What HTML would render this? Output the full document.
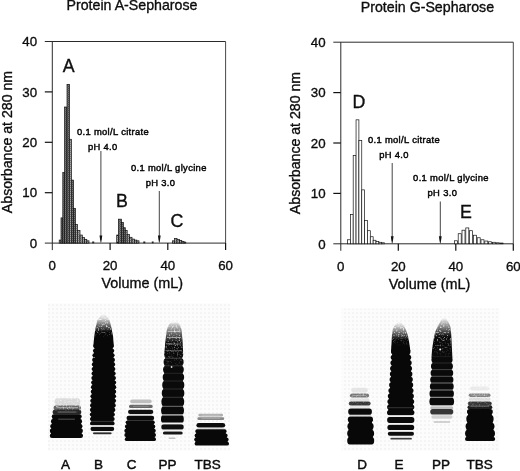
<!DOCTYPE html>
<html lang="en">
<head>
<meta charset="utf-8">
<title>Protein A-Sepharose / Protein G-Sepharose</title>
<style>
html,body{margin:0;padding:0;background:#fff;}
body{width:520px;height:471px;overflow:hidden;}
svg{display:block;font-family:"Liberation Sans", sans-serif;fill:#111;}
</style>
</head>
<body>
<svg width="520" height="471" viewBox="0 0 520 471">
<defs>
<pattern id="stip" width="2" height="2" patternUnits="userSpaceOnUse">
<rect width="2" height="2" fill="#777"/><rect width="1" height="1" fill="#4a4a4a"/><rect x="1" y="1" width="1" height="1" fill="#5c5c5c"/>
</pattern>
<pattern id="stipl" width="2" height="2" patternUnits="userSpaceOnUse">
<rect width="2" height="2" fill="#aaa"/><rect width="1" height="1" fill="#777"/><rect x="1" y="1" width="1" height="1" fill="#8a8a8a"/>
</pattern>
<pattern id="dith" width="4" height="4" patternUnits="userSpaceOnUse"><rect width="4" height="4" fill="#fcfcfc"/><rect width="2" height="2" fill="#f4f4f4"/></pattern>
<filter id="b1" x="0" y="0" width="520" height="471" filterUnits="userSpaceOnUse" color-interpolation-filters="sRGB">
<feTurbulence type="fractalNoise" baseFrequency="0.35" numOctaves="2" seed="7" result="n"/>
<feDisplacementMap in="SourceGraphic" in2="n" scale="1.3" xChannelSelector="R" yChannelSelector="G" result="d"/>
<feGaussianBlur in="d" stdDeviation="0.6"/>
</filter>
<filter id="spk" x="0" y="0" width="520" height="471" filterUnits="userSpaceOnUse" color-interpolation-filters="sRGB">
<feTurbulence type="fractalNoise" baseFrequency="0.62" numOctaves="2" seed="11" result="t"/>
<feColorMatrix in="t" type="matrix" values="0 0 0 0 0.97  0 0 0 0 0.97  0 0 0 0 0.97  0 0 0 3.6 -1.85" result="w"/>
<feComposite in="w" in2="SourceAlpha" operator="in" result="c"/>
<feGaussianBlur in="c" stdDeviation="0.5"/>
</filter>
</defs>
<rect width="520" height="471" fill="#fff"/>

<text x="132" y="10.2" font-size="14.2" text-anchor="middle" stroke="#000" stroke-width="0.32">Protein A-Sepharose</text>
<path d="M44.8 41.50H225.6" fill="none" stroke="#2a2a2a" stroke-width="1.0"/>
<path d="M225.6 41.50V243.1" fill="none" stroke="#333" stroke-width="0.9"/>
<path d="M52.3 41.50V250.1M44.8 243.1H225.6" fill="none" stroke="#2a2a2a" stroke-width="1.0"/>
<path d="M44.8 192.70H52.3" stroke="#111" stroke-width="1.2"/>
<path d="M44.8 142.30H52.3" stroke="#111" stroke-width="1.2"/>
<path d="M44.8 91.90H52.3" stroke="#111" stroke-width="1.2"/>
<text x="37.1" y="247.8" font-size="13.3" text-anchor="end" stroke="#000" stroke-width="0.32">0</text>
<text x="37.1" y="197.4" font-size="13.3" text-anchor="end" stroke="#000" stroke-width="0.32">10</text>
<text x="37.1" y="147.1" font-size="13.3" text-anchor="end" stroke="#000" stroke-width="0.32">20</text>
<text x="37.1" y="96.7" font-size="13.3" text-anchor="end" stroke="#000" stroke-width="0.32">30</text>
<text x="37.1" y="46.2" font-size="13.3" text-anchor="end" stroke="#000" stroke-width="0.32">40</text>
<path d="M110.1 243.1V250.1" stroke="#111" stroke-width="1.2"/>
<path d="M167.8 243.1V250.1" stroke="#111" stroke-width="1.2"/>
<path d="M225.6 243.1V250.1" stroke="#111" stroke-width="1.2"/>
<text x="52.3" y="270.1" font-size="13.3" text-anchor="middle" stroke="#000" stroke-width="0.32">0</text>
<text x="110.1" y="270.1" font-size="13.3" text-anchor="middle" stroke="#000" stroke-width="0.32">20</text>
<text x="167.8" y="270.1" font-size="13.3" text-anchor="middle" stroke="#000" stroke-width="0.32">40</text>
<text x="225.6" y="270.1" font-size="13.3" text-anchor="middle" stroke="#000" stroke-width="0.32">60</text>
<text x="142.2" y="288.1" font-size="14.4" text-anchor="middle" stroke="#000" stroke-width="0.32">Volume (mL)</text>
<text transform="translate(11.8 142) rotate(-90)" font-size="14.15" text-anchor="middle" stroke="#000" stroke-width="0.32">Absorbance at 280 nm</text>
<rect x="59.20" y="240.08" width="1.80" height="3.02" fill="url(#stipl)" stroke="#111" stroke-width="0.7"/>
<rect x="61.00" y="217.90" width="2.00" height="25.20" fill="url(#stip)" stroke="#111" stroke-width="0.7"/>
<rect x="62.80" y="172.54" width="2.00" height="70.56" fill="url(#stip)" stroke="#111" stroke-width="0.7"/>
<rect x="64.60" y="107.02" width="2.40" height="136.08" fill="url(#stip)" stroke="#111" stroke-width="0.7"/>
<rect x="67.00" y="84.34" width="2.60" height="158.76" fill="url(#stip)" stroke="#111" stroke-width="0.7"/>
<rect x="69.40" y="139.28" width="2.10" height="103.82" fill="url(#stipl)" stroke="#111" stroke-width="0.7"/>
<rect x="71.30" y="180.10" width="2.30" height="63.00" fill="url(#stip)" stroke="#111" stroke-width="0.7"/>
<rect x="73.50" y="208.32" width="2.00" height="34.78" fill="url(#stip)" stroke="#111" stroke-width="0.7"/>
<rect x="75.50" y="224.45" width="2.00" height="18.65" fill="url(#stipl)" stroke="#111" stroke-width="0.7"/>
<rect x="77.50" y="230.50" width="2.50" height="12.60" fill="url(#stipl)" stroke="#111" stroke-width="0.7"/>
<rect x="80.00" y="235.04" width="2.30" height="8.06" fill="url(#stipl)" stroke="#111" stroke-width="0.7"/>
<rect x="82.30" y="237.56" width="2.30" height="5.54" fill="url(#stipl)" stroke="#111" stroke-width="0.7"/>
<rect x="84.60" y="239.32" width="2.20" height="3.78" fill="url(#stipl)" stroke="#111" stroke-width="0.7"/>
<rect x="86.80" y="240.83" width="2.20" height="2.27" fill="url(#stipl)" stroke="#111" stroke-width="0.7"/>
<rect x="116.70" y="235.04" width="1.80" height="8.06" fill="url(#stipl)" stroke="#111" stroke-width="0.7"/>
<rect x="118.40" y="219.16" width="3.10" height="23.94" fill="url(#stip)" stroke="#111" stroke-width="0.7"/>
<rect x="121.50" y="222.44" width="1.90" height="20.66" fill="url(#stip)" stroke="#111" stroke-width="0.7"/>
<rect x="123.40" y="227.73" width="1.90" height="15.37" fill="url(#stip)" stroke="#111" stroke-width="0.7"/>
<rect x="125.30" y="230.50" width="1.90" height="12.60" fill="url(#stipl)" stroke="#111" stroke-width="0.7"/>
<rect x="127.20" y="234.53" width="2.40" height="8.57" fill="url(#stipl)" stroke="#111" stroke-width="0.7"/>
<rect x="129.60" y="237.30" width="2.40" height="5.80" fill="url(#stipl)" stroke="#111" stroke-width="0.7"/>
<rect x="132.00" y="239.07" width="2.40" height="4.03" fill="url(#stipl)" stroke="#111" stroke-width="0.7"/>
<rect x="134.40" y="240.08" width="2.40" height="3.02" fill="url(#stipl)" stroke="#111" stroke-width="0.7"/>
<rect x="136.80" y="240.83" width="2.20" height="2.27" fill="url(#stipl)" stroke="#111" stroke-width="0.7"/>
<rect x="172.60" y="240.83" width="2.00" height="2.27" fill="url(#stipl)" stroke="#111" stroke-width="0.7"/>
<rect x="174.60" y="238.56" width="2.40" height="4.54" fill="url(#stipl)" stroke="#111" stroke-width="0.7"/>
<rect x="177.00" y="239.32" width="2.40" height="3.78" fill="url(#stipl)" stroke="#111" stroke-width="0.7"/>
<rect x="179.40" y="240.33" width="2.40" height="2.77" fill="url(#stipl)" stroke="#111" stroke-width="0.7"/>
<rect x="181.80" y="241.34" width="2.20" height="1.76" fill="url(#stipl)" stroke="#111" stroke-width="0.7"/>
<rect x="184.00" y="242.09" width="1.80" height="1.01" fill="url(#stipl)" stroke="#111" stroke-width="0.7"/>
<rect x="92.2" y="241.5" width="2" height="1.8" fill="#222"/>
<rect x="143.3" y="241.5" width="2" height="1.8" fill="#222"/>
<rect x="151.8" y="241.5" width="1.8" height="1.8" fill="#222"/>
<path d="M100.9 151V240.1" stroke="#444" stroke-width="1"/>
<path d="M99.5 235.5L102.30000000000001 235.5L101.2 242.5L100.60000000000001 242.5Z" fill="#111"/>
<path d="M159.3 191V240.1" stroke="#444" stroke-width="1"/>
<path d="M157.9 235.5L160.70000000000002 235.5L159.60000000000002 242.5L159.0 242.5Z" fill="#111"/>
<text x="113" y="134.7" font-size="9.4" letter-spacing="0.34" text-anchor="middle" stroke="#000" stroke-width="0.45">0.1 mol/L citrate</text>
<text x="102.8" y="149.5" font-size="9.4" letter-spacing="0.34" text-anchor="middle" stroke="#000" stroke-width="0.45">pH 4.0</text>
<text x="168.8" y="170.7" font-size="9.4" letter-spacing="0.34" text-anchor="middle" stroke="#000" stroke-width="0.45">0.1 mol/L glycine</text>
<text x="160.5" y="185.5" font-size="9.4" letter-spacing="0.34" text-anchor="middle" stroke="#000" stroke-width="0.45">pH 3.0</text>
<text x="68.8" y="71.6" font-size="17.8" text-anchor="middle" stroke="#000" stroke-width="0.32">A</text>
<text x="122" y="206.7" font-size="17.8" text-anchor="middle" stroke="#000" stroke-width="0.32">B</text>
<text x="177" y="227.2" font-size="17.8" text-anchor="middle" stroke="#000" stroke-width="0.32">C</text>
<text x="427.4" y="12.1" font-size="14.2" text-anchor="middle" stroke="#000" stroke-width="0.32">Protein G-Sepharose</text>
<path d="M333.3 42.20H513.3" fill="none" stroke="#2a2a2a" stroke-width="1.0"/>
<path d="M513.3 42.20V243.8" fill="none" stroke="#333" stroke-width="0.9"/>
<path d="M340.8 42.20V250.8M333.3 243.8H513.3" fill="none" stroke="#2a2a2a" stroke-width="1.0"/>
<path d="M333.3 193.40H340.8" stroke="#111" stroke-width="1.2"/>
<path d="M333.3 143.00H340.8" stroke="#111" stroke-width="1.2"/>
<path d="M333.3 92.60H340.8" stroke="#111" stroke-width="1.2"/>
<text x="325.6" y="248.6" font-size="13.3" text-anchor="end" stroke="#000" stroke-width="0.32">0</text>
<text x="325.6" y="198.2" font-size="13.3" text-anchor="end" stroke="#000" stroke-width="0.32">10</text>
<text x="325.6" y="147.8" font-size="13.3" text-anchor="end" stroke="#000" stroke-width="0.32">20</text>
<text x="325.6" y="97.4" font-size="13.3" text-anchor="end" stroke="#000" stroke-width="0.32">30</text>
<text x="325.6" y="47.0" font-size="13.3" text-anchor="end" stroke="#000" stroke-width="0.32">40</text>
<path d="M398.3 243.8V250.8" stroke="#111" stroke-width="1.2"/>
<path d="M455.8 243.8V250.8" stroke="#111" stroke-width="1.2"/>
<path d="M513.3 243.8V250.8" stroke="#111" stroke-width="1.2"/>
<text x="340.8" y="270.8" font-size="13.3" text-anchor="middle" stroke="#000" stroke-width="0.32">0</text>
<text x="398.3" y="270.8" font-size="13.3" text-anchor="middle" stroke="#000" stroke-width="0.32">20</text>
<text x="455.8" y="270.8" font-size="13.3" text-anchor="middle" stroke="#000" stroke-width="0.32">40</text>
<text x="513.3" y="270.8" font-size="13.3" text-anchor="middle" stroke="#000" stroke-width="0.32">60</text>
<text x="429.6" y="288.8" font-size="14.4" text-anchor="middle" stroke="#000" stroke-width="0.32">Volume (mL)</text>
<text transform="translate(300.2 143) rotate(-90)" font-size="14.15" text-anchor="middle" stroke="#000" stroke-width="0.32">Absorbance at 280 nm</text>
<rect x="347.50" y="239.77" width="2.85" height="4.03" fill="#fff" stroke="#111" stroke-width="0.7"/>
<rect x="350.35" y="214.57" width="2.85" height="29.23" fill="#fff" stroke="#111" stroke-width="0.7"/>
<rect x="353.20" y="155.60" width="2.85" height="88.20" fill="#fff" stroke="#111" stroke-width="0.7"/>
<rect x="356.05" y="119.82" width="2.85" height="123.98" fill="#fff" stroke="#111" stroke-width="0.7"/>
<rect x="358.90" y="140.48" width="2.85" height="103.32" fill="#fff" stroke="#111" stroke-width="0.7"/>
<rect x="361.75" y="189.87" width="2.85" height="53.93" fill="#fff" stroke="#111" stroke-width="0.7"/>
<rect x="364.60" y="220.62" width="2.85" height="23.18" fill="#fff" stroke="#111" stroke-width="0.7"/>
<rect x="367.45" y="230.70" width="2.85" height="13.10" fill="#fff" stroke="#111" stroke-width="0.7"/>
<rect x="370.30" y="236.74" width="2.85" height="7.06" fill="#fff" stroke="#111" stroke-width="0.7"/>
<rect x="373.15" y="240.27" width="2.85" height="3.53" fill="#fff" stroke="#111" stroke-width="0.7"/>
<rect x="376.00" y="241.53" width="2.85" height="2.27" fill="#fff" stroke="#111" stroke-width="0.7"/>
<rect x="378.85" y="242.29" width="2.85" height="1.51" fill="#fff" stroke="#111" stroke-width="0.7"/>
<rect x="381.70" y="242.79" width="2.85" height="1.01" fill="#fff" stroke="#111" stroke-width="0.7"/>
<rect x="454.40" y="240.78" width="3.00" height="3.02" fill="#fff" stroke="#111" stroke-width="0.7"/>
<rect x="458.20" y="233.72" width="3.00" height="10.08" fill="#fff" stroke="#111" stroke-width="0.7"/>
<rect x="462.00" y="230.19" width="3.00" height="13.61" fill="#fff" stroke="#111" stroke-width="0.7"/>
<rect x="465.80" y="227.92" width="3.00" height="15.88" fill="#fff" stroke="#111" stroke-width="0.7"/>
<rect x="469.60" y="230.70" width="3.00" height="13.10" fill="#fff" stroke="#111" stroke-width="0.7"/>
<rect x="473.40" y="235.23" width="3.00" height="8.57" fill="#fff" stroke="#111" stroke-width="0.7"/>
<rect x="477.20" y="237.75" width="3.00" height="6.05" fill="#fff" stroke="#111" stroke-width="0.7"/>
<rect x="481.00" y="239.77" width="3.00" height="4.03" fill="#fff" stroke="#111" stroke-width="0.7"/>
<rect x="484.80" y="241.03" width="3.00" height="2.77" fill="#fff" stroke="#111" stroke-width="0.7"/>
<rect x="488.60" y="241.78" width="3.00" height="2.02" fill="#fff" stroke="#111" stroke-width="0.7"/>
<rect x="492.40" y="242.29" width="3.00" height="1.51" fill="#fff" stroke="#111" stroke-width="0.7"/>
<rect x="496.20" y="242.79" width="3.00" height="1.01" fill="#fff" stroke="#111" stroke-width="0.7"/>
<rect x="500.00" y="243.04" width="3.00" height="0.76" fill="#fff" stroke="#111" stroke-width="0.7"/>
<path d="M392.2 163V240.8" stroke="#444" stroke-width="1"/>
<path d="M390.8 236.20000000000002L393.59999999999997 236.20000000000002L392.5 243.20000000000002L391.9 243.20000000000002Z" fill="#111"/>
<path d="M440.3 201.5V240.8" stroke="#444" stroke-width="1"/>
<path d="M438.90000000000003 236.20000000000002L441.7 236.20000000000002L440.6 243.20000000000002L440.0 243.20000000000002Z" fill="#111"/>
<text x="404" y="143.4" font-size="9.4" letter-spacing="0.34" text-anchor="middle" stroke="#000" stroke-width="0.45">0.1 mol/L citrate</text>
<text x="394" y="157.7" font-size="9.4" letter-spacing="0.34" text-anchor="middle" stroke="#000" stroke-width="0.45">pH 4.0</text>
<text x="451" y="181.4" font-size="9.4" letter-spacing="0.34" text-anchor="middle" stroke="#000" stroke-width="0.45">0.1 mol/L glycine</text>
<text x="442.4" y="196" font-size="9.4" letter-spacing="0.34" text-anchor="middle" stroke="#000" stroke-width="0.45">pH 3.0</text>
<text x="358.9" y="108" font-size="17.8" text-anchor="middle" stroke="#000" stroke-width="0.32">D</text>
<text x="466" y="218.2" font-size="17.8" text-anchor="middle" stroke="#000" stroke-width="0.32">E</text>
<rect x="48" y="303.5" width="182" height="147" fill="url(#dith)"/>
<rect x="341.5" y="308.5" width="158" height="142" fill="url(#dith)"/>
<g filter="url(#b1)">
<path d="M53.3 415.0L52.9 417.0L52.5 419.0L52.2 421.0L51.9 423.0L51.7 425.0L51.4 427.0L51.2 429.0L50.9 431.0L50.9 433.0L51.0 435.0L51.2 437.0L81.7 437.0L81.7 435.0L81.7 433.0L81.6 431.0L81.5 429.0L81.3 427.0L81.1 425.0L81.0 423.0L80.8 421.0L80.6 419.0L80.5 417.0L80.3 415.0Z" fill="#080808"/>
<rect x="54.6" y="398.3" width="25.6" height="7.7" rx="2.6" ry="3.8" fill="#dadada"/>
<rect x="53.5" y="405.5" width="27.5" height="4.5" rx="2.2" ry="2.2" fill="#696969"/>
<rect x="52.6" y="409.6" width="28.7" height="5.0" rx="2.5" ry="2.5" fill="#262626"/>
<rect x="51.7" y="414.3" width="30.0" height="4.5" rx="2.2" ry="2.2" fill="#080808"/>
<rect x="50.9" y="419.1" width="31.2" height="4.5" rx="2.2" ry="2.2" fill="#080808"/>
<rect x="50.2" y="423.9" width="32.3" height="4.5" rx="2.2" ry="2.2" fill="#080808"/>
<rect x="49.8" y="428.6" width="33.1" height="4.5" rx="2.2" ry="2.2" fill="#080808"/>
<rect x="49.8" y="433.4" width="33.2" height="4.5" rx="2.2" ry="2.2" fill="#080808"/>
<rect x="56.6" y="407.1" width="21.4" height="1.0" fill="#e1e1e1" opacity="0.5"/>
<rect x="57.7" y="411.6" width="18.7" height="0.9" fill="#c8c8c8" opacity="0.5"/>
<rect x="58.2" y="418.7" width="16.7" height="0.9" fill="#969696" opacity="0.6"/>
<linearGradient id="lg1" x1="0" y1="314" x2="0" y2="346" gradientUnits="userSpaceOnUse"><stop offset="0" stop-color="#080808" stop-opacity="0"/><stop offset="0.156" stop-color="#080808" stop-opacity="0.18"/><stop offset="0.359" stop-color="#080808" stop-opacity="0.6"/><stop offset="0.562" stop-color="#080808" stop-opacity="1"/><stop offset="1" stop-color="#080808" stop-opacity="1"/></linearGradient>
<path d="M102.0 314.0L100.5 316.0L99.0 318.0L97.5 320.0L97.0 322.0L96.5 324.0L96.0 326.0L95.5 328.0L95.2 330.0L94.9 332.0L94.6 334.0L94.3 336.0L94.1 338.0L93.9 340.0L93.7 342.0L93.5 344.0L93.3 346.0L113.8 346.0L113.7 344.0L113.5 342.0L113.3 340.0L113.2 338.0L113.0 336.0L112.6 334.0L112.2 332.0L111.9 330.0L111.5 328.0L111.0 326.0L110.5 324.0L110.0 322.0L109.5 320.0L108.0 318.0L106.5 316.0L105.0 314.0Z" fill="url(#lg1)"/>
<path d="M94.8 344.0L94.6 346.0L94.5 348.0L94.3 350.0L94.1 352.0L93.9 354.0L93.7 356.0L93.5 358.0L93.3 360.0L93.2 362.0L93.1 364.0L93.1 366.0L93.0 368.0L92.9 370.0L92.8 372.0L92.7 374.0L92.7 376.0L92.6 378.0L92.5 380.0L92.4 382.0L92.3 384.0L92.2 386.0L92.1 388.0L92.0 390.0L92.0 392.0L91.8 394.0L91.8 396.0L91.6 398.0L91.5 400.0L91.5 402.0L91.3 404.0L91.3 406.0L91.2 408.0L91.2 410.0L91.2 412.0L91.1 414.0L91.1 416.0L91.2 418.0L91.2 420.0L91.2 422.0L91.3 424.0L91.3 424.5L113.2 424.5L113.2 424.0L113.3 422.0L113.4 420.0L113.4 418.0L113.5 416.0L113.6 414.0L113.9 412.0L114.1 410.0L114.3 408.0L114.6 406.0L114.7 404.0L114.7 402.0L114.8 400.0L114.8 398.0L114.8 396.0L114.9 394.0L114.9 392.0L114.9 390.0L115.0 388.0L115.0 386.0L114.9 384.0L114.8 382.0L114.7 380.0L114.6 378.0L114.5 376.0L114.4 374.0L114.3 372.0L114.2 370.0L114.1 368.0L114.0 366.0L113.9 364.0L113.8 362.0L113.7 360.0L113.5 358.0L113.4 356.0L113.2 354.0L113.0 352.0L112.9 350.0L112.7 348.0L112.5 346.0L112.4 344.0Z" fill="#080808"/>
<rect x="93.3" y="344.1" width="20.5" height="4.2" rx="2.1" ry="2.1" fill="#080808"/>
<rect x="92.9" y="348.7" width="21.4" height="4.2" rx="2.1" ry="2.1" fill="#080808"/>
<rect x="92.4" y="353.2" width="22.2" height="4.2" rx="2.1" ry="2.1" fill="#080808"/>
<rect x="92.1" y="357.8" width="22.9" height="4.2" rx="2.1" ry="2.1" fill="#080808"/>
<rect x="91.8" y="362.3" width="23.4" height="4.2" rx="2.1" ry="2.1" fill="#080808"/>
<rect x="91.6" y="366.9" width="23.8" height="4.2" rx="2.1" ry="2.1" fill="#080808"/>
<rect x="91.5" y="371.4" width="24.2" height="4.2" rx="2.1" ry="2.1" fill="#080808"/>
<rect x="91.3" y="376.0" width="24.7" height="4.2" rx="2.1" ry="2.1" fill="#080808"/>
<rect x="91.1" y="380.5" width="25.1" height="4.2" rx="2.1" ry="2.1" fill="#080808"/>
<rect x="90.9" y="385.1" width="25.4" height="4.2" rx="2.1" ry="2.1" fill="#080808"/>
<rect x="90.7" y="389.6" width="25.5" height="4.2" rx="2.1" ry="2.1" fill="#080808"/>
<rect x="90.4" y="394.2" width="25.7" height="4.2" rx="2.1" ry="2.1" fill="#080808"/>
<rect x="90.2" y="398.7" width="25.9" height="4.2" rx="2.1" ry="2.1" fill="#080808"/>
<rect x="90.0" y="403.3" width="25.8" height="4.2" rx="2.1" ry="2.1" fill="#080808"/>
<rect x="89.9" y="407.8" width="25.5" height="4.2" rx="2.1" ry="2.1" fill="#080808"/>
<rect x="89.8" y="412.4" width="25.1" height="4.2" rx="2.1" ry="2.1" fill="#080808"/>
<rect x="89.9" y="416.9" width="24.8" height="4.2" rx="2.1" ry="2.1" fill="#080808"/>
<rect x="90.0" y="421.5" width="24.6" height="3.8" rx="1.9" ry="1.9" fill="#0a0a0a"/>
<rect x="90.5" y="426.8" width="23.7" height="4.1" rx="2.0" ry="2.0" fill="#0c0c0c"/>
<rect x="93.0" y="432.3" width="18.6" height="2.0" rx="1.0" ry="1.0" fill="#2d2d2d"/>
<rect x="90.9" y="420.9" width="22.7" height="0.9" fill="#787878" opacity="0.45"/>
<rect x="90.6" y="425.4" width="23.3" height="1.2" fill="#e6e6e6" opacity="0.85"/>
<rect x="91.5" y="431.1" width="21.7" height="1.1" fill="#ebebeb" opacity="0.85"/>
<path d="M127.2 420.5L126.9 422.5L126.5 424.5L126.2 426.5L125.9 428.5L125.5 430.5L125.4 432.5L125.6 434.5L125.8 436.5L126.0 438.5L126.2 440.5L154.7 440.5L154.7 438.5L154.7 436.5L154.7 434.5L154.7 432.5L154.5 430.5L154.3 428.5L154.0 426.5L153.8 424.5L153.5 422.5L153.3 420.5Z" fill="#080808"/>
<rect x="130.2" y="399.5" width="21.5" height="3.7" rx="1.8" ry="1.8" fill="#bebebe"/>
<rect x="129.0" y="404.8" width="23.7" height="3.1" rx="1.5" ry="1.5" fill="#696969"/>
<rect x="128.0" y="409.8" width="25.3" height="4.3" rx="2.2" ry="2.2" fill="#0f0f0f"/>
<rect x="126.5" y="415.7" width="27.7" height="4.5" rx="2.2" ry="2.2" fill="#0a0a0a"/>
<rect x="125.6" y="420.4" width="29.2" height="3.9" rx="2.0" ry="2.0" fill="#080808"/>
<rect x="124.9" y="424.6" width="30.4" height="3.9" rx="2.0" ry="2.0" fill="#080808"/>
<rect x="124.3" y="428.8" width="31.5" height="3.9" rx="2.0" ry="2.0" fill="#080808"/>
<rect x="124.3" y="433.1" width="31.7" height="3.9" rx="2.0" ry="2.0" fill="#080808"/>
<rect x="124.8" y="437.2" width="31.2" height="3.9" rx="2.0" ry="2.0" fill="#080808"/>
<rect x="129.3" y="414.4" width="22.5" height="1.0" fill="#969696" opacity="0.5"/>
<rect x="133.0" y="405.9" width="15.7" height="0.7" fill="#c8c8c8" opacity="0.45"/>
<linearGradient id="lg2" x1="0" y1="322" x2="0" y2="352" gradientUnits="userSpaceOnUse"><stop offset="0" stop-color="#0a0a0a" stop-opacity="0"/><stop offset="0.067" stop-color="#0a0a0a" stop-opacity="0.18"/><stop offset="0.383" stop-color="#0a0a0a" stop-opacity="0.6"/><stop offset="0.700" stop-color="#0a0a0a" stop-opacity="1"/><stop offset="1" stop-color="#0a0a0a" stop-opacity="1"/></linearGradient>
<path d="M171.5 322.0L169.5 324.0L168.2 326.0L167.5 328.0L166.8 330.0L166.5 332.0L166.3 334.0L166.0 336.0L165.8 338.0L165.5 340.0L165.3 342.0L165.1 344.0L165.0 346.0L164.8 348.0L164.6 350.0L164.4 352.0L183.1 352.0L183.0 350.0L182.9 348.0L182.8 346.0L182.7 344.0L182.6 342.0L182.5 340.0L182.3 338.0L182.1 336.0L182.0 334.0L181.8 332.0L181.6 330.0L181.0 328.0L180.3 326.0L179.2 324.0L177.5 322.0Z" fill="url(#lg2)"/>
<path d="M165.9 350.0L165.7 352.0L165.5 354.0L165.4 356.0L165.2 358.0L165.0 360.0L164.9 362.0L164.8 364.0L164.6 366.0L164.5 368.0L164.4 370.0L164.3 372.0L164.2 374.0L164.0 376.0L163.9 378.0L163.8 380.0L163.7 382.0L163.6 384.0L163.5 386.0L163.4 388.0L163.3 390.0L163.2 392.0L163.1 394.0L163.0 396.0L162.9 398.0L162.8 400.0L162.7 402.0L162.6 404.0L162.6 406.0L162.5 408.0L162.4 410.0L162.3 412.0L162.2 414.0L162.2 416.0L162.1 418.0L162.0 420.0L162.2 422.0L162.3 422.8L182.3 422.8L182.3 422.0L182.3 420.0L182.4 418.0L182.5 416.0L182.5 414.0L182.6 412.0L182.7 410.0L182.8 408.0L182.9 406.0L182.9 404.0L182.9 402.0L182.9 400.0L183.0 398.0L183.0 396.0L183.0 394.0L183.0 392.0L183.0 390.0L183.1 388.0L183.1 386.0L183.1 384.0L183.0 382.0L182.9 380.0L182.8 378.0L182.8 376.0L182.7 374.0L182.6 372.0L182.6 370.0L182.5 368.0L182.4 366.0L182.3 364.0L182.3 362.0L182.2 360.0L182.1 358.0L182.0 356.0L181.9 354.0L181.8 352.0L181.7 350.0Z" fill="#0a0a0a"/>
<rect x="161.0" y="415.0" width="22.8" height="8.3" rx="2.6" ry="4.1" fill="#0a0a0a"/>
<rect x="161.1" y="406.4" width="22.9" height="8.4" rx="2.6" ry="4.2" fill="#0a0a0a"/>
<rect x="161.4" y="397.4" width="22.8" height="8.8" rx="2.6" ry="4.4" fill="#0a0a0a"/>
<rect x="161.8" y="389.1" width="22.5" height="8.1" rx="2.6" ry="4.0" fill="#0a0a0a"/>
<rect x="162.2" y="381.1" width="22.1" height="7.8" rx="2.6" ry="3.9" fill="#0a0a0a"/>
<rect x="162.7" y="373.4" width="21.4" height="7.5" rx="2.6" ry="3.7" fill="#0a0a0a"/>
<rect x="163.1" y="365.9" width="20.7" height="7.3" rx="2.6" ry="3.6" fill="#0a0a0a"/>
<rect x="163.6" y="358.3" width="20.0" height="7.4" rx="2.6" ry="3.7" fill="#0a0a0a"/>
<rect x="164.2" y="350.8" width="19.0" height="7.3" rx="2.6" ry="3.6" fill="#0a0a0a"/>
<rect x="161.3" y="424.3" width="22.4" height="5.3" rx="2.6" ry="2.7" fill="#0e0e0e"/>
<rect x="162.9" y="431.4" width="19.8" height="3.2" rx="1.6" ry="1.6" fill="#161616"/>
<rect x="168.6" y="437.4" width="7.0" height="1.5" rx="0.8" ry="0.8" fill="#bebebe"/>
<rect x="161.0" y="422.5" width="22.6" height="1.7" fill="#f5f5f5" opacity="0.95"/>
<rect x="161.3" y="414.2" width="22.1" height="1.4" fill="#e1e1e1" opacity="0.8"/>
<rect x="162.0" y="405.8" width="21.3" height="1.1" fill="#a5a5a5" opacity="0.6"/>
<rect x="162.8" y="396.8" width="20.2" height="1.0" fill="#787878" opacity="0.4"/>
<rect x="163.2" y="388.5" width="19.9" height="1.0" fill="#6e6e6e" opacity="0.35"/>
<rect x="163.6" y="380.5" width="19.4" height="1.0" fill="#6e6e6e" opacity="0.3"/>
<rect x="164.1" y="372.8" width="18.7" height="1.0" fill="#6e6e6e" opacity="0.3"/>
<rect x="164.6" y="365.3" width="18.0" height="1.0" fill="#787878" opacity="0.35"/>
<rect x="165.1" y="357.7" width="17.1" height="1.0" fill="#8c8c8c" opacity="0.4"/>
<rect x="165.7" y="350.2" width="16.1" height="1.0" fill="#aaaaaa" opacity="0.5"/>
<rect x="166.3" y="343.5" width="15.2" height="1.0" fill="#bebebe" opacity="0.55"/>
<rect x="167.0" y="337.0" width="14.1" height="1.0" fill="#d2d2d2" opacity="0.6"/>
<rect x="167.8" y="331.0" width="12.7" height="1.0" fill="#e1e1e1" opacity="0.6"/>
<rect x="161.7" y="429.9" width="22.1" height="1.2" fill="#f0f0f0" opacity="0.9"/>
<circle cx="171.6" cy="367" r="0.9" fill="#ddd"/>
<path d="M196.7 430.5L196.3 432.5L195.9 434.5L195.7 436.5L195.5 438.5L195.3 440.5L195.6 442.5L196.1 444.5L227.7 444.5L227.7 442.5L227.6 440.5L227.1 438.5L226.6 436.5L226.1 434.5L225.6 432.5L225.1 430.5Z" fill="#080808"/>
<rect x="198.3" y="413.8" width="24.8" height="2.6" rx="1.3" ry="1.3" fill="#afafaf"/>
<rect x="197.4" y="417.3" width="26.8" height="2.7" rx="1.3" ry="1.3" fill="#878787"/>
<rect x="196.4" y="422.9" width="28.8" height="4.6" rx="2.3" ry="2.3" fill="#0c0c0c"/>
<rect x="195.3" y="429.2" width="31.3" height="3.9" rx="1.9" ry="1.9" fill="#080808"/>
<rect x="194.6" y="433.4" width="33.0" height="3.9" rx="1.9" ry="1.9" fill="#080808"/>
<rect x="194.2" y="437.5" width="34.4" height="3.9" rx="1.9" ry="1.9" fill="#080808"/>
<rect x="194.6" y="441.7" width="34.4" height="3.9" rx="1.9" ry="1.9" fill="#080808"/>
<rect x="197.3" y="427.8" width="27.0" height="1.0" fill="#bebebe" opacity="0.6"/>
<rect x="201.8" y="414.8" width="17.8" height="0.6" fill="#ebebeb" opacity="0.5"/>
<rect x="201.4" y="418.3" width="18.8" height="0.6" fill="#e1e1e1" opacity="0.45"/>
<path d="M349.2 417.5L349.1 419.5L349.0 421.5L348.8 423.5L348.7 425.5L348.6 427.5L348.5 429.5L348.5 431.5L348.5 433.5L348.5 435.5L348.5 437.5L348.5 439.5L348.5 441.5L348.5 443.5L373.0 443.5L372.9 441.5L372.9 439.5L372.9 437.5L372.8 435.5L372.8 433.5L372.7 431.5L372.6 429.5L372.4 427.5L372.2 425.5L372.1 423.5L371.8 421.5L371.6 419.5L371.4 417.5Z" fill="#080808"/>
<rect x="351.1" y="387.8" width="16.8" height="4.6" rx="2.3" ry="2.3" fill="#e4e4e4"/>
<rect x="349.8" y="393.6" width="19.3" height="4.0" rx="2.0" ry="2.0" fill="#787878"/>
<rect x="349.8" y="398.2" width="19.6" height="3.0" rx="1.5" ry="1.5" fill="#e1e1e1"/>
<rect x="348.8" y="401.6" width="21.8" height="4.0" rx="2.0" ry="2.0" fill="#373737"/>
<rect x="348.2" y="408.5" width="23.7" height="6.3" rx="2.6" ry="3.2" fill="#0a0a0a"/>
<rect x="347.8" y="416.5" width="25.2" height="6.1" rx="2.6" ry="3.1" fill="#080808"/>
<rect x="347.4" y="422.9" width="26.2" height="6.9" rx="2.6" ry="3.5" fill="#080808"/>
<rect x="347.2" y="430.1" width="26.9" height="6.7" rx="2.6" ry="3.4" fill="#080808"/>
<rect x="347.2" y="437.1" width="27.0" height="7.3" rx="2.6" ry="3.7" fill="#080808"/>
<rect x="350.0" y="406.5" width="19.6" height="1.0" fill="#aaaaaa" opacity="0.5"/>
<rect x="349.5" y="415.2" width="21.6" height="0.9" fill="#aaaaaa" opacity="0.55"/>
<rect x="352.8" y="395.0" width="13.2" height="0.8" fill="#d7d7d7" opacity="0.5"/>
<linearGradient id="lg3" x1="0" y1="322" x2="0" y2="351" gradientUnits="userSpaceOnUse"><stop offset="0" stop-color="#080808" stop-opacity="0"/><stop offset="0.138" stop-color="#080808" stop-opacity="0.18"/><stop offset="0.379" stop-color="#080808" stop-opacity="0.6"/><stop offset="0.621" stop-color="#080808" stop-opacity="1"/><stop offset="1" stop-color="#080808" stop-opacity="1"/></linearGradient>
<path d="M397.5 322.0L395.9 324.0L394.2 326.0L393.4 328.0L392.7 330.0L392.4 332.0L392.1 334.0L391.9 336.0L391.8 338.0L391.7 340.0L391.6 342.0L391.5 344.0L391.3 346.0L391.2 348.0L391.1 350.0L391.0 351.0L410.4 351.0L410.2 350.0L410.0 348.0L409.7 346.0L409.4 344.0L409.1 342.0L408.7 340.0L408.3 338.0L408.0 336.0L407.4 334.0L406.7 332.0L406.0 330.0L405.0 328.0L404.0 326.0L402.5 324.0L401.0 322.0Z" fill="url(#lg3)"/>
<path d="M392.5 349.0L392.3 351.0L392.2 353.0L392.1 355.0L392.0 357.0L391.9 359.0L391.8 361.0L391.7 363.0L391.6 365.0L391.5 367.0L391.4 369.0L391.3 371.0L391.2 373.0L391.1 375.0L391.0 377.0L390.9 379.0L390.8 381.0L390.6 383.0L390.4 385.0L390.1 387.0L389.9 389.0L389.7 391.0L389.5 393.0L389.2 395.0L389.0 397.0L388.8 399.0L388.7 401.0L388.6 403.0L388.5 405.0L388.4 407.0L388.3 409.0L388.2 411.0L388.2 413.0L388.3 414.9L413.1 414.9L413.1 413.0L413.1 411.0L413.0 409.0L413.0 407.0L413.0 405.0L412.9 403.0L412.9 401.0L412.8 399.0L412.7 397.0L412.6 395.0L412.4 393.0L412.3 391.0L412.1 389.0L412.0 387.0L411.8 385.0L411.7 383.0L411.6 381.0L411.4 379.0L411.3 377.0L411.2 375.0L411.0 373.0L410.9 371.0L410.8 369.0L410.7 367.0L410.5 365.0L410.4 363.0L410.3 361.0L410.1 359.0L409.8 357.0L409.6 355.0L409.3 353.0L409.1 351.0L408.8 349.0Z" fill="#080808"/>
<rect x="391.0" y="349.1" width="19.5" height="5.2" rx="2.6" ry="2.6" fill="#080808"/>
<rect x="390.7" y="354.7" width="20.5" height="5.2" rx="2.6" ry="2.6" fill="#080808"/>
<rect x="390.4" y="360.2" width="21.3" height="5.2" rx="2.6" ry="2.6" fill="#080808"/>
<rect x="390.1" y="365.8" width="21.9" height="5.2" rx="2.6" ry="2.6" fill="#080808"/>
<rect x="389.9" y="371.3" width="22.5" height="5.2" rx="2.6" ry="2.6" fill="#080808"/>
<rect x="389.6" y="376.8" width="23.2" height="5.2" rx="2.6" ry="2.6" fill="#080808"/>
<rect x="389.1" y="382.3" width="24.1" height="5.2" rx="2.6" ry="2.6" fill="#080808"/>
<rect x="388.4" y="387.9" width="25.1" height="5.2" rx="2.6" ry="2.6" fill="#080808"/>
<rect x="387.8" y="393.4" width="26.1" height="5.2" rx="2.6" ry="2.6" fill="#080808"/>
<rect x="387.4" y="398.9" width="26.8" height="5.2" rx="2.6" ry="2.6" fill="#080808"/>
<rect x="387.1" y="404.5" width="27.2" height="5.2" rx="2.6" ry="2.6" fill="#080808"/>
<rect x="387.0" y="410.0" width="27.4" height="5.2" rx="2.6" ry="2.6" fill="#080808"/>
<rect x="387.1" y="417.0" width="27.3" height="6.0" rx="2.6" ry="3.0" fill="#0a0a0a"/>
<rect x="387.4" y="424.8" width="26.8" height="5.3" rx="2.6" ry="2.7" fill="#0a0a0a"/>
<rect x="387.8" y="431.8" width="26.2" height="4.0" rx="2.0" ry="2.0" fill="#0e0e0e"/>
<rect x="390.4" y="437.8" width="21.5" height="1.8" rx="0.9" ry="0.9" fill="#3c3c3c"/>
<rect x="388.1" y="407.2" width="25.2" height="1.0" fill="#787878" opacity="0.4"/>
<rect x="387.5" y="415.6" width="26.4" height="1.2" fill="#ebebeb" opacity="0.85"/>
<rect x="387.7" y="423.3" width="26.1" height="1.2" fill="#ebebeb" opacity="0.85"/>
<rect x="388.1" y="430.4" width="25.5" height="1.1" fill="#ebebeb" opacity="0.85"/>
<rect x="388.6" y="436.2" width="25.0" height="1.2" fill="#f0f0f0" opacity="0.9"/>
<linearGradient id="lg4" x1="0" y1="318" x2="0" y2="358" gradientUnits="userSpaceOnUse"><stop offset="0" stop-color="#0a0a0a" stop-opacity="0"/><stop offset="0.075" stop-color="#0a0a0a" stop-opacity="0.18"/><stop offset="0.275" stop-color="#0a0a0a" stop-opacity="0.6"/><stop offset="0.475" stop-color="#0a0a0a" stop-opacity="1"/><stop offset="1" stop-color="#0a0a0a" stop-opacity="1"/></linearGradient>
<path d="M442.5 318.0L441.5 320.0L440.2 322.0L439.0 324.0L438.0 326.0L437.0 328.0L436.1 330.0L435.2 332.0L434.7 334.0L434.3 336.0L433.9 338.0L433.5 340.0L433.2 342.0L432.9 344.0L432.6 346.0L432.3 348.0L432.0 350.0L431.9 352.0L431.7 354.0L431.6 356.0L431.5 358.0L452.4 358.0L452.3 356.0L452.2 354.0L452.1 352.0L452.0 350.0L451.9 348.0L451.8 346.0L451.7 344.0L451.6 342.0L451.5 340.0L451.4 338.0L451.3 336.0L451.2 334.0L451.0 332.0L450.8 330.0L450.6 328.0L450.1 326.0L449.4 324.0L448.3 322.0L447.0 320.0L446.0 318.0Z" fill="url(#lg4)"/>
<path d="M432.9 356.0L432.8 358.0L432.7 360.0L432.5 362.0L432.4 364.0L432.3 366.0L432.1 368.0L432.0 370.0L431.9 372.0L431.8 374.0L431.7 376.0L431.6 378.0L431.5 380.0L431.4 382.0L431.3 384.0L431.2 386.0L431.1 388.0L431.0 390.0L430.9 392.0L430.8 394.0L430.7 396.0L430.6 398.0L430.5 400.0L430.6 402.0L430.7 404.0L430.7 404.8L452.8 404.8L452.8 404.0L452.8 402.0L452.9 400.0L452.8 398.0L452.7 396.0L452.7 394.0L452.6 392.0L452.5 390.0L452.4 388.0L452.4 386.0L452.3 384.0L452.2 382.0L452.1 380.0L452.1 378.0L452.0 376.0L451.9 374.0L451.8 372.0L451.8 370.0L451.7 368.0L451.6 366.0L451.5 364.0L451.3 362.0L451.2 360.0L451.1 358.0L451.0 356.0Z" fill="#0a0a0a"/>
<rect x="429.4" y="397.4" width="24.7" height="8.3" rx="2.6" ry="4.1" fill="#0a0a0a"/>
<rect x="429.5" y="390.1" width="24.4" height="7.1" rx="2.6" ry="3.5" fill="#0a0a0a"/>
<rect x="429.9" y="383.1" width="23.8" height="6.8" rx="2.6" ry="3.4" fill="#0a0a0a"/>
<rect x="430.2" y="376.4" width="23.2" height="6.5" rx="2.6" ry="3.2" fill="#0a0a0a"/>
<rect x="430.6" y="369.7" width="22.6" height="6.5" rx="2.6" ry="3.2" fill="#0a0a0a"/>
<rect x="431.0" y="363.1" width="21.9" height="6.4" rx="2.6" ry="3.2" fill="#0a0a0a"/>
<rect x="431.4" y="356.7" width="21.2" height="6.2" rx="2.6" ry="3.1" fill="#0a0a0a"/>
<rect x="430.3" y="406.2" width="22.9" height="3.2" rx="1.6" ry="1.6" fill="#bebebe"/>
<rect x="430.2" y="409.0" width="23.1" height="5.6" rx="2.6" ry="2.8" fill="#373737"/>
<rect x="431.3" y="415.2" width="21.1" height="3.6" rx="1.8" ry="1.8" fill="#d2d2d2"/>
<rect x="433.6" y="421.3" width="16.7" height="1.5" rx="0.8" ry="0.8" fill="#c3c3c3"/>
<rect x="430.4" y="405.3" width="22.6" height="1.0" fill="#ebebeb" opacity="0.85"/>
<rect x="430.3" y="396.8" width="22.8" height="1.0" fill="#dcdcdc" opacity="0.75"/>
<rect x="430.7" y="389.5" width="22.1" height="1.0" fill="#c8c8c8" opacity="0.65"/>
<rect x="431.1" y="382.5" width="21.5" height="1.0" fill="#bebebe" opacity="0.6"/>
<rect x="431.4" y="375.8" width="20.9" height="1.0" fill="#a0a0a0" opacity="0.5"/>
<rect x="431.7" y="369.1" width="20.3" height="1.0" fill="#8c8c8c" opacity="0.45"/>
<rect x="432.2" y="362.5" width="19.5" height="1.0" fill="#787878" opacity="0.3"/>
<rect x="432.6" y="356.1" width="18.8" height="1.0" fill="#6e6e6e" opacity="0.2"/>
<circle cx="440.2" cy="349.5" r="1.0" fill="#eee"/>
<path d="M468.5 410.0L468.3 412.0L468.1 414.0L467.9 416.0L467.7 418.0L467.5 420.0L467.3 422.0L467.1 424.0L466.9 426.0L466.7 428.0L466.5 430.0L466.3 432.0L466.3 434.0L466.3 436.0L466.3 438.0L466.3 440.0L493.9 440.0L493.8 438.0L493.8 436.0L493.7 434.0L493.7 432.0L493.5 430.0L493.3 428.0L493.1 426.0L492.9 424.0L492.7 422.0L492.5 420.0L492.3 418.0L492.0 416.0L491.8 414.0L491.5 412.0L491.3 410.0Z" fill="#080808"/>
<rect x="470.1" y="386.5" width="19.1" height="4.1" rx="2.1" ry="2.1" fill="#eaeaea"/>
<rect x="468.7" y="393.6" width="21.8" height="3.3" rx="1.6" ry="1.6" fill="#828282"/>
<rect x="468.8" y="397.4" width="21.8" height="3.4" rx="1.7" ry="1.7" fill="#dadada"/>
<rect x="467.8" y="401.6" width="23.9" height="4.0" rx="2.0" ry="2.0" fill="#373737"/>
<rect x="467.5" y="405.2" width="24.8" height="4.0" rx="2.0" ry="2.0" fill="#1c1c1c"/>
<rect x="467.0" y="409.1" width="25.8" height="5.5" rx="2.6" ry="2.8" fill="#080808"/>
<rect x="466.3" y="414.9" width="27.3" height="7.7" rx="2.6" ry="3.9" fill="#080808"/>
<rect x="465.6" y="422.9" width="28.9" height="6.9" rx="2.6" ry="3.5" fill="#080808"/>
<rect x="465.1" y="430.1" width="29.9" height="6.7" rx="2.6" ry="3.4" fill="#080808"/>
<rect x="465.0" y="437.1" width="30.2" height="4.0" rx="2.0" ry="2.0" fill="#080808"/>
<rect x="470.6" y="405.8" width="18.6" height="0.9" fill="#bebebe" opacity="0.5"/>
<rect x="471.7" y="394.8" width="15.8" height="0.7" fill="#dcdcdc" opacity="0.5"/>
</g>
<linearGradient id="sg5" x1="0" y1="316" x2="0" y2="338" gradientUnits="userSpaceOnUse"><stop offset="0" stop-color="#fff" stop-opacity="1.0"/><stop offset="0.545" stop-color="#fff" stop-opacity="0.75"/><stop offset="1" stop-color="#fff" stop-opacity="0"/></linearGradient>
<path d="M100.8 316.0L99.3 318.0L97.8 320.0L97.3 322.0L96.8 324.0L96.3 326.0L95.8 328.0L95.5 330.0L95.2 332.0L94.9 334.0L94.6 336.0L94.4 338.0L112.9 338.0L112.7 336.0L112.3 334.0L112.0 332.0L111.6 330.0L111.2 328.0L110.7 326.0L110.2 324.0L109.7 322.0L109.2 320.0L107.7 318.0L106.2 316.0Z" fill="url(#sg5)" filter="url(#spk)"/>
<linearGradient id="sg6" x1="0" y1="323" x2="0" y2="370" gradientUnits="userSpaceOnUse"><stop offset="0" stop-color="#fff" stop-opacity="0.8"/><stop offset="0.404" stop-color="#fff" stop-opacity="0.60"/><stop offset="1" stop-color="#fff" stop-opacity="0"/></linearGradient>
<path d="M170.8 323.0L168.8 325.0L168.1 327.0L167.4 329.0L167.0 331.0L166.7 333.0L166.5 335.0L166.2 337.0L165.9 339.0L165.7 341.0L165.5 343.0L165.4 345.0L165.2 347.0L165.0 349.0L164.8 351.0L164.6 353.0L164.4 355.0L164.3 357.0L164.1 359.0L163.9 361.0L163.8 363.0L163.7 365.0L163.6 367.0L163.5 369.0L163.4 370.0L183.6 370.0L183.5 369.0L183.5 367.0L183.4 365.0L183.3 363.0L183.2 361.0L183.1 359.0L183.0 357.0L182.9 355.0L182.8 353.0L182.8 351.0L182.6 349.0L182.5 347.0L182.4 345.0L182.3 343.0L182.2 341.0L182.1 339.0L181.9 337.0L181.8 335.0L181.6 333.0L181.4 331.0L181.0 329.0L180.3 327.0L179.7 325.0L178.0 323.0Z" fill="url(#sg6)" filter="url(#spk)"/>
<linearGradient id="sg7" x1="0" y1="323" x2="0" y2="346" gradientUnits="userSpaceOnUse"><stop offset="0" stop-color="#fff" stop-opacity="1.0"/><stop offset="0.478" stop-color="#fff" stop-opacity="0.75"/><stop offset="1" stop-color="#fff" stop-opacity="0"/></linearGradient>
<path d="M397.0 323.0L395.3 325.0L394.1 327.0L393.4 329.0L392.9 331.0L392.6 333.0L392.3 335.0L392.2 337.0L392.1 339.0L391.9 341.0L391.8 343.0L391.7 345.0L391.6 346.0L409.4 346.0L409.3 345.0L408.9 343.0L408.6 341.0L408.2 339.0L407.9 337.0L407.5 335.0L406.8 333.0L406.1 331.0L405.2 329.0L404.2 327.0L402.9 325.0L401.4 323.0Z" fill="url(#sg7)" filter="url(#spk)"/>
<linearGradient id="sg8" x1="0" y1="320" x2="0" y2="358" gradientUnits="userSpaceOnUse"><stop offset="0" stop-color="#fff" stop-opacity="0.85"/><stop offset="0.421" stop-color="#fff" stop-opacity="0.64"/><stop offset="1" stop-color="#fff" stop-opacity="0"/></linearGradient>
<path d="M441.8 320.0L440.5 322.0L439.3 324.0L438.3 326.0L437.3 328.0L436.4 330.0L435.5 332.0L435.0 334.0L434.6 336.0L434.2 338.0L433.8 340.0L433.5 342.0L433.2 344.0L432.9 346.0L432.6 348.0L432.3 350.0L432.2 352.0L432.0 354.0L431.9 356.0L431.8 358.0L452.1 358.0L452.0 356.0L451.9 354.0L451.8 352.0L451.7 350.0L451.6 348.0L451.5 346.0L451.4 344.0L451.3 342.0L451.2 340.0L451.1 338.0L451.0 336.0L450.9 334.0L450.7 332.0L450.5 330.0L450.3 328.0L449.8 326.0L449.1 324.0L448.0 322.0L446.7 320.0Z" fill="url(#sg8)" filter="url(#spk)"/>
<linearGradient id="sg9" x1="0" y1="397.5" x2="0" y2="412" gradientUnits="userSpaceOnUse"><stop offset="0" stop-color="#fff" stop-opacity="0.8"/><stop offset="0.724" stop-color="#fff" stop-opacity="0.60"/><stop offset="1" stop-color="#fff" stop-opacity="0"/></linearGradient>
<path d="M55.2 397.5L55.0 399.5L54.7 401.5L54.4 403.5L54.1 405.5L53.9 407.5L53.5 409.5L53.1 411.5L53.0 412.0L81.0 412.0L81.0 411.5L80.8 409.5L80.7 407.5L80.5 405.5L80.3 403.5L80.1 401.5L79.9 399.5L79.7 397.5Z" fill="url(#sg9)" filter="url(#spk)"/>
<linearGradient id="sg10" x1="0" y1="386" x2="0" y2="409" gradientUnits="userSpaceOnUse"><stop offset="0" stop-color="#fff" stop-opacity="0.7"/><stop offset="0.609" stop-color="#fff" stop-opacity="0.52"/><stop offset="1" stop-color="#fff" stop-opacity="0"/></linearGradient>
<path d="M470.3 386.0L470.0 388.0L469.7 390.0L469.4 392.0L469.1 394.0L468.9 396.0L468.7 398.0L468.5 400.0L468.3 402.0L468.1 404.0L467.9 406.0L467.7 408.0L467.6 409.0L492.2 409.0L492.1 408.0L491.8 406.0L491.5 404.0L491.2 402.0L490.9 400.0L490.6 398.0L490.3 396.0L490.0 394.0L489.8 392.0L489.6 390.0L489.4 388.0L489.2 386.0Z" fill="url(#sg10)" filter="url(#spk)"/>
<linearGradient id="sg11" x1="0" y1="387" x2="0" y2="407" gradientUnits="userSpaceOnUse"><stop offset="0" stop-color="#fff" stop-opacity="0.6"/><stop offset="0.550" stop-color="#fff" stop-opacity="0.45"/><stop offset="1" stop-color="#fff" stop-opacity="0"/></linearGradient>
<path d="M351.3 387.0L351.0 389.0L350.8 391.0L350.5 393.0L350.2 395.0L349.9 397.0L349.7 399.0L349.4 401.0L349.1 403.0L349.0 405.0L348.8 407.0L370.9 407.0L370.5 405.0L370.2 403.0L369.8 401.0L369.4 399.0L369.1 397.0L368.7 395.0L368.4 393.0L368.2 391.0L367.9 389.0L367.7 387.0Z" fill="url(#sg11)" filter="url(#spk)"/>
<text x="65.5" y="469.4" font-size="13.5" text-anchor="middle" stroke="#000" stroke-width="0.4">A</text>
<text x="98.5" y="469.4" font-size="13.5" text-anchor="middle" stroke="#000" stroke-width="0.4">B</text>
<text x="131.5" y="469.4" font-size="13.5" text-anchor="middle" stroke="#000" stroke-width="0.4">C</text>
<text x="167.5" y="469.4" font-size="13.5" text-anchor="middle" stroke="#000" stroke-width="0.4">PP</text>
<text x="207.7" y="469.4" font-size="13.5" text-anchor="middle" stroke="#000" stroke-width="0.4">TBS</text>
<text x="362" y="469.4" font-size="13.5" text-anchor="middle" stroke="#000" stroke-width="0.4">D</text>
<text x="399" y="469.4" font-size="13.5" text-anchor="middle" stroke="#000" stroke-width="0.4">E</text>
<text x="441" y="469.4" font-size="13.5" text-anchor="middle" stroke="#000" stroke-width="0.4">PP</text>
<text x="479.6" y="469.4" font-size="13.5" text-anchor="middle" stroke="#000" stroke-width="0.4">TBS</text>
</svg>
</body>
</html>
